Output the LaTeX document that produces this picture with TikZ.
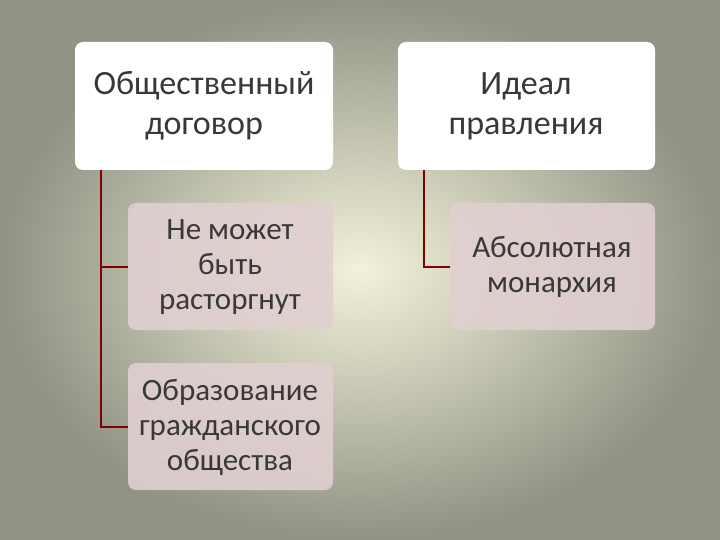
\documentclass[tikz,border=0pt]{standalone}
\usepackage{fontspec}
\setmainfont{Carlito}
\begin{document}
\begin{tikzpicture}[x=1pt,y=-1pt,
  top/.style={draw=none,fill=white,rounded corners=8pt,align=center,font=\fontsize{34}{40}\selectfont,text=black!78},
  sub/.style={draw=none,fill=pink!30!white!88!black,fill opacity=0.9,text opacity=1,rounded corners=8pt,align=center,font=\fontsize{31}{35}\selectfont,text=black!78},
  conn/.style={draw=red!50!black,line width=1.2pt}]
\shade[inner color=white!90!yellow!95!black,outer color=black!45!white!95!yellow, shading=radial] (0,0) rectangle (720,540);
\useasboundingbox (0,0) rectangle (720,540);
\path[top] (75,42) rectangle (333,170);
\node[top] (a) at (204,106) {Общественный\\договор};
\path[top] (398,42) rectangle (655,170);
\node[top] (b) at (526,106) {Идеал\\правления};
\path[sub] (128,203) rectangle (333,330);
\node[sub,fill=none] (c) at (230,267) {Не может\\быть\\расторгнут};
\path[sub] (128,363) rectangle (333,490);
\node[sub,fill=none] (d) at (230,427) {Образование\\гражданского\\общества};
\path[sub] (450,203) rectangle (655,330);
\node[sub,fill=none] (e) at (552,267) {Абсолютная\\монархия};
\coordinate (a0) at (101,170);
\coordinate (b0) at (424,170);
\draw[conn] (a0) |- (128,267) (a0) |- (128,427);
\draw[conn] (b0) |- (450,267);
\end{tikzpicture}
\end{document}
